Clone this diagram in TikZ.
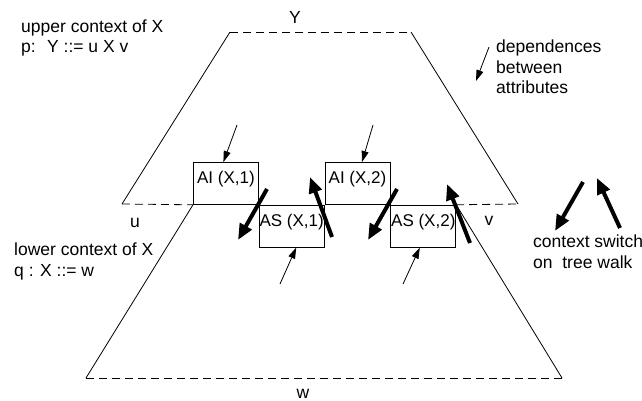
\documentclass[tikz,border=0pt]{standalone}
\usepackage{fontspec}
\setmainfont{Liberation Sans}
\usepackage{tikz}
\usetikzlibrary{arrows.meta,positioning}

\begin{document}
\begin{tikzpicture}[x=1pt,y=-1pt,
    every node/.style={font=\fontsize{17.5}{20.5}\selectfont},
    attr/.style={draw,line width=0.8pt,minimum width=65pt,minimum height=42pt,
        inner xsep=0pt,inner ysep=8pt,text height=13pt,text depth=13pt,
        anchor=north west,font=\fontsize{17}{20}\selectfont},
    txt/.style={anchor=base west,align=left,inner sep=0pt},
    lbl/.style={anchor=base,inner sep=0pt},
    dep/.style={line width=0.8pt,-{Triangle[length=11pt,width=7pt]}},
    switch/.style={line width=4pt,-{Triangle[length=16pt,width=13pt]}},
    side/.style={line width=0.8pt},
    cut/.style={line width=0.8pt,dash pattern=on 8pt off 5pt}]
\useasboundingbox (0,0) rectangle (642,401);

    % attribute boxes of X
    \node[attr] (ai1) at (193,162) {AI (X,1)};
    \node[attr] (as1) at (ai1.south east) {AS (X,1)};
    \node[attr,anchor=south west] (ai2) at (as1.north east) {AI (X,2)};
    \node[attr] (as2) at (ai2.south east) {AS (X,2)};

    % corners of the two contexts
    \coordinate (yl) at (230,32);
    \coordinate (yr) at (411,32);
    \coordinate (ul) at (122,204);
    \coordinate (ur) at (518,204);
    \coordinate (wl) at (86,378);
    \coordinate (wr) at (562,378);

    % upper context
    \draw[side] (ul) -- (yl);
    \draw[cut] (yl) -- (yr);
    \draw[side] (yr) -- (ur);
    \draw[cut] (ul) -- (ai1.south west);
    \draw[cut] (as2.north east) -- (ur);

    % lower context
    \draw[side] (ai1.south west) -- (wl);
    \draw[cut] (wl) -- (wr);
    \draw[side] (as2.north east) -- (wr);

    % symbols
    \node[lbl] (ysym) at (295,24) {Y};
    \node[lbl] (usym) at (135,227) {u};
    \node[lbl] (vsym) at (489,225) {v};
    \node[lbl] (wsym) at (303,398) {w};

    % dependences
    \coordinate (d1) at (237,125);
    \coordinate (d2) at (373,125);
    \coordinate (d3) at (280,284);
    \coordinate (d4) at (403,284);
    \draw[dep] (d1) -- ([xshift=-2.5pt]ai1.north);
    \draw[dep] (d2) -- ([xshift=4.5pt]ai2.north);
    \draw[dep] (d3) -- ([xshift=4.5pt]as1.south);
    \draw[dep] (d4) -- ([xshift=-3.5pt]as2.south);

    % context switches
    \coordinate (s1a) at (267,189); \coordinate (s1b) at (238,240);
    \coordinate (s2a) at (332,237); \coordinate (s2b) at (310,177);
    \coordinate (s3a) at (397,189); \coordinate (s3b) at (368,240);
    \coordinate (s4a) at (470,243); \coordinate (s4b) at (447,184);
    \draw[switch] (s1a) -- (s1b);
    \draw[switch] (s2a) -- (s2b);
    \draw[switch] (s3a) -- (s3b);
    \draw[switch] (s4a) -- (s4b);

    % legend
    \coordinate (ld1) at (489,47); \coordinate (ld2) at (476,81);
    \draw[dep] (ld1) -- (ld2);
    \node[txt] (deptxt) at (496,94) {dependences\\between\\attributes};
    \coordinate (ls1) at (583,182); \coordinate (ls2) at (555,231);
    \coordinate (ls3) at (620,228); \coordinate (ls4) at (597,178);
    \draw[switch] (ls1) -- (ls2);
    \draw[switch] (ls3) -- (ls4);
    \node[txt] (swtxt) at (533,268) {context switch\\on \ tree walk};

    % contexts
    \node[txt] (uptxt) at (21,53) {upper context of X\\p: \ Y ::= u X v};
    \node[txt] (lowtxt) at (14,276) {lower context of X\\q : X ::= w};

\end{tikzpicture}
\end{document}
